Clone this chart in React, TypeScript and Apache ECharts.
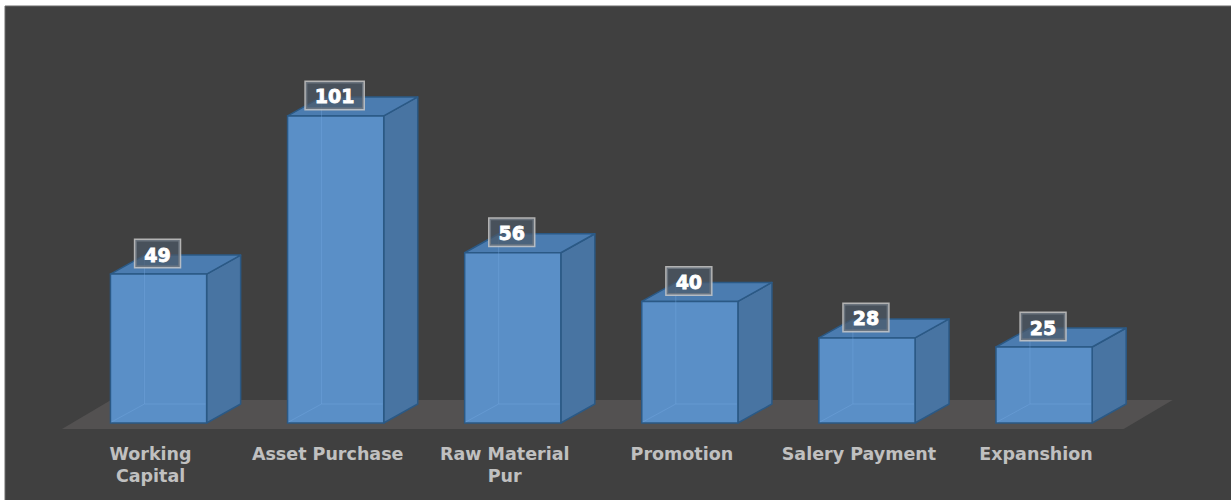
import React, { useEffect, useRef } from "react";
import * as echarts from "echarts";

const categories = ["Working Capital", "Asset Purchase", "Raw Material Pur", "Promotion", "Salery Payment", "Expanshion"];
const tickLabels = ["Working\nCapital", "Asset Purchase", "Raw Material\nPur", "Promotion", "Salery Payment", "Expanshion"];
const values = [49, 101, 56, 40, 28, 25];

export default function App() {
  const ref = useRef<HTMLDivElement>(null);
  useEffect(() => {
    document.body.style.margin = "0";
    const chart = echarts.init(ref.current!, undefined, { renderer: "svg" });
    const DX = 34;
    const DY = 19;
    const option: any = {
      animation: false,
      backgroundColor: "#ffffff",
      graphic: [
        {
          type: "rect",
          z: -10,
          shape: { x: 5, y: 6, width: 1232, height: 500 },
          style: { fill: "#404040", stroke: "#6a6a6a", lineWidth: 1 },
          silent: true,
        },
      ],
      grid: { left: 70, right: 98.4, top: 58.2, bottom: 77 },
      xAxis: {
        type: "category",
        data: categories,
        axisLine: { show: false },
        axisTick: { show: false },
        splitLine: { show: false },
        axisLabel: {
          interval: 0,
          margin: 19.5,
          color: "#c0c0c0",
          fontSize: 17.5,
          fontWeight: "bold",
          fontFamily: "DejaVu Sans",
          lineHeight: 22,
          padding: [0, 16, 0, 0],
          formatter: (_v: string, i: number) => tickLabels[i],
        },
      },
      yAxis: {
        type: "value",
        min: 0,
        max: 120,
        show: false,
        splitLine: { show: false },
      },
      series: [
        {
          type: "custom",
          z: 1,
          data: [[0, 0]],
          silent: true,
          renderItem: (params: any, api: any) => {
            const cs = params.coordSys;
            const fy = cs.y + cs.height + 6;
            const lx = cs.x - 8;
            const rx = cs.x + cs.width - 9;
            return {
              type: "polygon",
              shape: {
                points: [
                  [lx, fy],
                  [rx, fy],
                  [rx + 49, fy - 29],
                  [lx + 49, fy - 29],
                ],
              },
              style: { fill: "#535151" },
            };
          },
        },
        {
          type: "custom",
          z: 2,
          data: values.map((v, i) => [i, v]),
          renderItem: (params: any, api: any) => {
            const idx = api.value(0);
            const v = api.value(1);
            const base = api.coord([idx, 0]);
            const top = api.coord([idx, v]);
            const bw = api.size([1, 0])[0] * 0.543;
            const x0 = base[0] - bw / 2;
            const x1 = base[0] + bw / 2;
            const yb = base[1];
            const yt = top[1];
            const edge = "#2b5985";
            const faint = "rgba(120,172,228,0.35)";
            return {
              type: "group",
              children: [
                {
                  type: "polygon",
                  shape: { points: [[x1, yt], [x1 + DX, yt - DY], [x1 + DX, yb - DY], [x1, yb]] },
                  style: { fill: "#4874a2", stroke: edge, lineWidth: 1.5, lineJoin: "round" },
                },
                {
                  type: "polygon",
                  shape: { points: [[x0, yt], [x0 + DX, yt - DY], [x1 + DX, yt - DY], [x1, yt]] },
                  style: { fill: "#4b7cb0", stroke: edge, lineWidth: 1.5, lineJoin: "round" },
                },
                {
                  type: "rect",
                  shape: { x: x0, y: yt, width: bw, height: yb - yt },
                  style: { fill: "#5a8fc7", stroke: edge, lineWidth: 1.5 },
                },
                {
                  type: "line",
                  shape: { x1: x0 + DX, y1: yt - DY + 2, x2: x0 + DX, y2: yb - DY },
                  style: { stroke: faint, lineWidth: 1 },
                },
                {
                  type: "line",
                  shape: { x1: x0 + 1, y1: yb - 1, x2: x0 + DX, y2: yb - DY },
                  style: { stroke: faint, lineWidth: 1 },
                },
                {
                  type: "line",
                  shape: { x1: x0 + DX, y1: yb - DY, x2: x1 - 1, y2: yb - DY },
                  style: { stroke: faint, lineWidth: 1 },
                },
                {
                  type: "text",
                  x: base[0] - 1,
                  y: yt - 7,
                  style: {
                    text: String(v),
                    align: "center",
                    verticalAlign: "bottom",
                    fill: "#ffffff",
                    stroke: "#ffffff",
                    lineWidth: 0.8,
                    font: "bold 19px 'DejaVu Sans'",
                    backgroundColor: "rgba(76,88,102,0.7)",
                    borderColor: "rgba(200,200,200,0.85)",
                    borderWidth: 1.5,
                    padding: [5, 9, 3, 9],
                  },
                },
              ],
            };
          },
        },
      ],
    };
    chart.setOption(option);
    return () => chart.dispose();
  }, []);
  return <div ref={ref} style={{ width: 1231, height: 500 }} />;
}
